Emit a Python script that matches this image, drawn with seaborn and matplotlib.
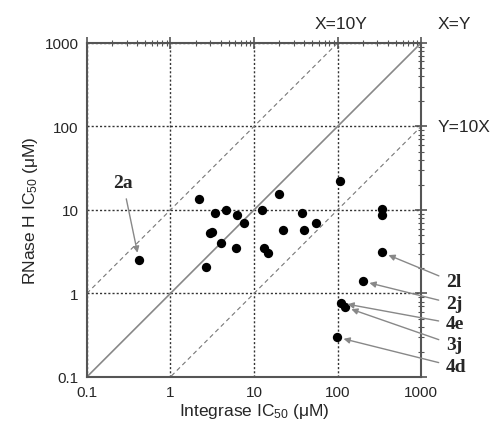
import matplotlib
matplotlib.use("Agg")
import matplotlib.pyplot as plt
import seaborn as sns
import numpy as np
import pandas as pd
from matplotlib.ticker import LogLocator, FixedLocator, NullFormatter

integrase_ic50 = [0.42, 2.19, 3.41, 4.66, 6.3, 7.66, 3.16, 3.0, 4.06, 6.08, 2.66,
                  12.5, 20.1, 37.2, 55.7, 22.0, 39.7, 13.2, 14.6, 107, 200,
                  109, 122, 341, 341, 341, 98]
rnaseh_ic50 = [2.55, 13.7, 9.08, 10.0, 8.7, 6.9, 5.48, 5.23, 4.0, 3.53, 2.07,
               9.95, 15.5, 9.25, 7.03, 5.8, 5.8, 3.46, 3.07, 22.1, 1.40,
               0.77, 0.69, 10.2, 8.7, 3.1, 0.30]

labels = ["2a", "2l", "2j", "4e", "3j", "4d"]
label_points_x = [0.42, 341, 200, 109, 122, 98]
label_points_y = [2.55, 3.1, 1.40, 0.77, 0.69, 0.30]

tick_vals = [0.1, 1, 10, 100, 1000]
tick_labels = ["0.1", "1", "10", "100", "1000"]

sns.set_theme(style="white")
plt.rcParams['font.family'] = ['Liberation Sans', 'DejaVu Sans']
plt.rcParams['mathtext.default'] = 'regular'

df = pd.DataFrame({"x": integrase_ic50, "y": rnaseh_ic50})

fig = plt.figure(figsize=(4.96, 4.31), dpi=100)
ax = fig.add_axes([0.175, 0.123, 0.674, 0.775])

# reference lines
ref = np.array([0.1, 1000])
ax.plot(ref, ref, color="#888888", lw=1.2, zorder=1)
ax.plot(ref, ref * 10, color="#777777", lw=0.8, ls=(0, (4, 3)), zorder=1)
ax.plot(ref, ref / 10, color="#777777", lw=0.8, ls=(0, (4, 3)), zorder=1)

sns.scatterplot(data=df, x="x", y="y", ax=ax, color="black", s=45,
                edgecolor="black", linewidth=0, zorder=3)

ax.set_xscale("log")
ax.set_yscale("log")
ax.set_xlim(0.1, 1000)
ax.set_ylim(0.1, 1000)

ax.xaxis.set_major_locator(FixedLocator(tick_vals))
ax.yaxis.set_major_locator(FixedLocator(tick_vals))
ax.set_xticklabels(tick_labels)
ax.set_yticklabels(tick_labels)
ax.xaxis.set_minor_locator(LogLocator(base=10, subs=np.arange(2, 10)))
ax.yaxis.set_minor_locator(LogLocator(base=10, subs=np.arange(2, 10)))
ax.xaxis.set_minor_formatter(NullFormatter())
ax.yaxis.set_minor_formatter(NullFormatter())

ax.grid(True, which="major", color="#333333", ls=(0, (1.5, 1.5)), lw=1.0)
ax.set_axisbelow(True)

for sp in ax.spines.values():
    sp.set_color("#555555")
    sp.set_linewidth(1.5)

ax.tick_params(which="both", top=True, right=True, direction="inout",
               color="#555555", labelsize=11, pad=2)
ax.tick_params(which="major", length=8, width=1.2)
ax.tick_params(which="minor", length=4, width=0.8)

ax.set_xlabel("Integrase IC$_{50}$ (\u03bcM)", fontsize=12.5, labelpad=1)
ax.set_ylabel("RNase H IC$_{50}$ (\u03bcM)", fontsize=12.5, labelpad=3)

# line labels
ax.text(1.048, 1.035, "X=Y", transform=ax.transAxes, fontsize=12.5, ha="left", va="bottom")
ax.text(0.762, 1.035, "X=10Y", transform=ax.transAxes, fontsize=12.5, ha="center", va="bottom")
ax.text(1.05, 0.75, "Y=10X", transform=ax.transAxes, fontsize=12.5, ha="left", va="center")

# compound annotations
arrow = dict(arrowstyle="-|>", color="#888888", lw=1.0, shrinkA=3, shrinkB=5,
             mutation_scale=9)
bold = dict(fontsize=14, fontweight="bold", family=["Liberation Serif", "DejaVu Serif"])
ax.annotate(labels[0], xy=(label_points_x[0], label_points_y[0]), xytext=(123, 431 - 184),
            textcoords="figure pixels", arrowprops=arrow, ha="center", va="center", **bold)
label_pos_y = [283, 305, 325, 346, 368]
for lab, px, py, ty in zip(labels[1:], label_points_x[1:], label_points_y[1:], label_pos_y):
    ax.annotate(lab, xy=(px, py), xytext=(446, 431 - ty), textcoords="figure pixels",
                arrowprops=arrow, ha="left", va="center", annotation_clip=False, **bold)

fig.savefig("out.png", dpi=100)
